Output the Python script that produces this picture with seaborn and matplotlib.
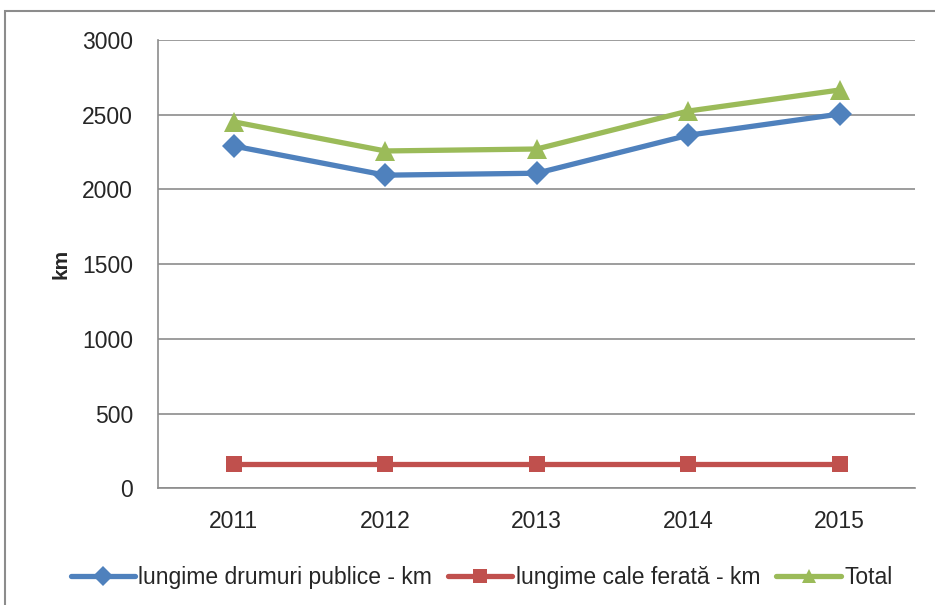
import numpy as np
import pandas as pd
import matplotlib.pyplot as plt
import seaborn as sns
from matplotlib.patches import Rectangle

# values
years = ['2011', '2012', '2013', '2014', '2015']
drumuri = [2290, 2095, 2108, 2362, 2504]
cale_ferata = [160, 160, 160, 160, 160]
total = [2452, 2257, 2270, 2524, 2665]

labels = ['lungime drumuri publice - km', 'lungime cale ferată - km', 'Total']
colors = ['#4F81BD', '#C0504D', '#9BBB59']
markers = ['D', 's', '^']

data = pd.DataFrame({
    'An': years * 3,
    'km': drumuri + cale_ferata + total,
    'Serie': [labels[0]] * 5 + [labels[1]] * 5 + [labels[2]] * 5,
})

sns.set_style('white')
plt.rcParams['font.family'] = ['Liberation Sans', 'DejaVu Sans']

fig = plt.figure(figsize=(9.35, 6.05), dpi=100)
ax = fig.add_axes([0.169, 0.193, 0.81, 0.741])

sns.lineplot(data=data, x='An', y='km', hue='Serie', style='Serie',
             palette=colors, markers=markers, dashes=False, sort=False,
             linewidth=3.8, markersize=12, markeredgewidth=0, ax=ax)
# triangles are drawn a bit larger in the original
ax.lines[2].set_markersize(14)

ax.set_xlim(-0.5, 4.5)
ax.set_ylim(0, 3000)
ax.set_yticks(np.arange(0, 3001, 500))
ax.yaxis.grid(True, color='#8c8c8c', linewidth=1.2)
ax.set_axisbelow(True)

# category labels in the middle, tick marks between categories
ax.set_xticks(range(5))
ax.set_xticklabels(years)
ax.set_xticks(np.arange(-0.5, 5, 1), minor=True)
ax.tick_params(axis='x', which='major', length=0, pad=16, labelsize=16.5)
ax.tick_params(axis='x', which='minor', length=7, width=1.2, color='#8c8c8c', direction='out')
ax.tick_params(axis='y', length=6, width=1.2, color='#8c8c8c', direction='out', labelsize=16.5, pad=12)

for side in ['top', 'right']:
    ax.spines[side].set_visible(False)
for side in ['left', 'bottom']:
    ax.spines[side].set_color('#8c8c8c')
    ax.spines[side].set_linewidth(1.2)

ax.set_xlabel('')
ax.set_ylabel('km', fontsize=15, fontweight='bold', labelpad=8)

handles, lbls = ax.get_legend_handles_labels()
ax.legend(handles, lbls, loc='center', bbox_to_anchor=(0.515, 0.045),
          bbox_transform=fig.transFigure, ncol=3, frameon=False,
          fontsize=16.5, handlelength=2.8, handletextpad=0.15, columnspacing=0.7,
          markerscale=0.85)

# outer frame of the chart area
fig.patches.append(Rectangle((5 / 935, -0.01), 1.0, 1 - 11 / 605 + 0.01,
                             transform=fig.transFigure, fill=False,
                             edgecolor='#8c8c8c', linewidth=1.5))

fig.savefig('out.png', dpi=100)
